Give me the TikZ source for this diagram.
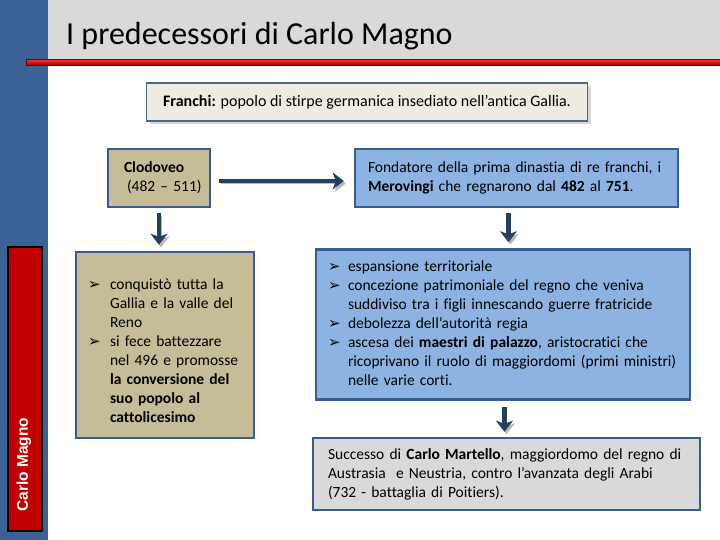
\documentclass[tikz,border=0pt]{standalone}
\usepackage{fontspec}
\setmainfont{Carlito}[Ligatures={NoCommon,NoContextual}]
\newfontfamily\dv{DejaVu Sans}
\newfontfamily\arialf{Liberation Sans}
\usetikzlibrary{arrows.meta,shadows}
\definecolor{sidebar}{HTML}{3A6296}
\definecolor{hdr}{HTML}{D9D9D9}
\definecolor{redl}{HTML}{C00000}
\definecolor{beige}{HTML}{EEECE1}
\definecolor{tanc}{HTML}{C4BD97}
\definecolor{lblue}{HTML}{8DB3E2}
\definecolor{bord}{HTML}{385D8A}
\definecolor{navy}{HTML}{243F60}
\newcommand{\bul}{{\dv\fontsize{15}{19}\selectfont ➢}}
\tikzset{
  boxbase/.style={draw=bord, line width=2.5pt, inner ysep=0pt, align=left, font=\fontsize{15.5}{19}\selectfont},
  tanbox/.style={boxbase, fill=tanc},
  bluebox/.style={boxbase, fill=lblue},
  graybox/.style={boxbase, fill=hdr},
  arr/.style={draw=navy, line width=4.5pt, -{Stealth[length=11pt,width=17pt,inset=3pt]},
    preaction={draw=gray!55, transform canvas={shift={(2pt,-2.5pt)}}}},
}
\begin{document}
\begin{tikzpicture}[x=1pt,y=-1pt]
\useasboundingbox (0,0) rectangle (720,540);
% background elements
\fill[hdr] (48,0) rectangle (720,61);
\fill[sidebar] (0,0) rectangle (48,540);
\shade[top color=red!80, bottom color=redl!80!black, draw=redl!60!black, line width=0.5pt] (26,59.5) rectangle (720,65);
\fill[redl, draw=black, line width=1.8pt] (8,247) rectangle (42,531);
\node[rotate=90, anchor=west, text=white, font=\arialf\bfseries\fontsize{15.5}{18}\selectfont, inner sep=0pt] (side) at (24,512) {Carlo Magno};
% title
\node[anchor=base west, inner sep=0pt, font=\fontsize{32}{36}\selectfont] (title) at (66,45) {I predecessori di Carlo Magno};
% Franchi box
\node[draw=bord!70!gray, line width=1.5pt, fill=beige, minimum width=441pt, minimum height=38pt,
  drop shadow={shadow xshift=3pt, shadow yshift=-3pt, fill=gray!60}, font=\fontsize{16}{19}\selectfont] (fr) at (367,102)
  {\textbf{Franchi:} popolo di stirpe germanica insediato nell’antica Gallia.};
% Clodoveo
\node[tanbox, minimum width=102pt, minimum height=58pt, text width=70pt, inner xsep=16pt] (clod) at (159,178)
  {\textbf{Clodoveo}\\\hspace*{3pt}\mbox{(482 – 511)}};
% Blue 1
\node[bluebox, minimum width=323pt, minimum height=58pt, text width=297pt, inner xsep=13pt] (b1) at (516.5,178)
  {Fondatore della prima dinastia di re franchi, i\\\textbf{Merovingi} che regnarono dal \textbf{482} al \textbf{751}.};
% Tan list
\node[tanbox, minimum width=178pt, minimum height=186pt, text width=154pt, inner xsep=12pt] (tl) at (165,345)
  {\raisebox{-7pt}[\height][\depth]{\begin{tabular}{@{}p{22pt}@{}l@{}}
  \bul & conquistò tutta la\\
   & Gallia e la valle del\\
   & Reno\\
  \bul & si fece battezzare\\
   & nel 496 e promosse\\
   & \textbf{la conversione del}\\
   & \textbf{suo popolo al}\\
   & \textbf{cattolicesimo}
  \end{tabular}}};
% Blue 2
\node[bluebox, minimum width=374pt, minimum height=150pt, text width=350pt, inner xsep=12pt] (b2) at (503,324.5)
  {\begin{tabular}{@{}p{20pt}@{}l@{}}
  \bul & espansione territoriale\\
  \bul & concezione patrimoniale del regno che veniva\\
   & suddiviso tra i figli innescando guerre fratricide\\
  \bul & debolezza dell’autorità regia\\
  \bul & ascesa dei \textbf{maestri di palazzo}, aristocratici che\\
   & ricoprivano il ruolo di maggiordomi (primi ministri)\\
   & nelle varie corti.
  \end{tabular}};
% Gray
\node[graybox, minimum width=387pt, minimum height=72pt, text width=357pt, inner xsep=15pt] (g) at (506.5,474)
  {Successo di \textbf{Carlo Martello}, maggiordomo del regno di\\
   Austrasia\ \ e Neustria, contro l’avanzata degli Arabi\\
   (732 - battaglia di Poitiers).};
% arrows
\draw[arr] ([xshift=8pt,yshift=-3pt]clod.east) -- ([xshift=-10pt,yshift=-3pt]clod.east -| b1.west);
\draw[arr] ([yshift=-5pt]clod.south) -- ([yshift=6pt]clod.south |- tl.north);
\draw[arr] ([xshift=-8pt,yshift=-5pt]b1.south) -- ([xshift=-8pt,yshift=6pt]b1.south |- b2.north);
\draw[arr] ([xshift=1.5pt,yshift=-6pt]b2.south) -- ([xshift=1.5pt,yshift=5pt]b2.south |- g.north);
\end{tikzpicture}
\end{document}
